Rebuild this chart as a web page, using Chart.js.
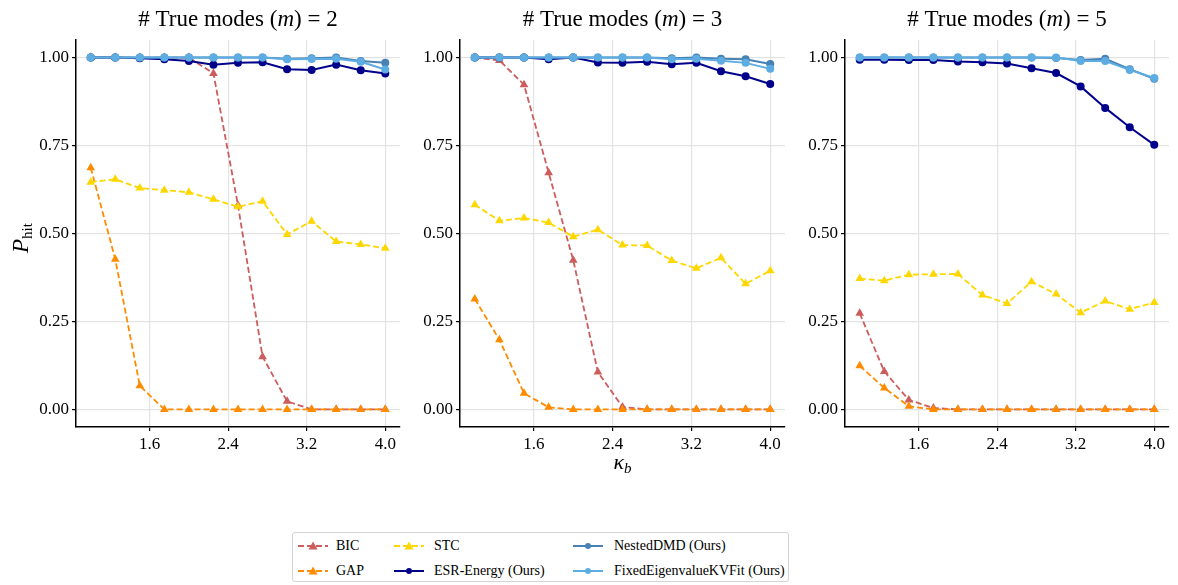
<!DOCTYPE html>
<html>
<head>
<meta charset="utf-8">
<script src="https://cdn.jsdelivr.net/npm/chart.js@4.4.1/dist/chart.umd.min.js"></script>
<style>
  html, body { margin: 0; padding: 0; background: #fff; }
  body { width: 1178px; height: 585px; position: relative; overflow: hidden; font-family: "Liberation Serif", "DejaVu Serif", serif; }
  canvas { position: absolute; top: 0; }
  #legend { position: absolute; left: 292px; top: 532px; width: 497px; height: 50px; border: 1px solid #d4d4d4; border-radius: 3px; background: #fff; box-sizing: border-box; }
  .li { position: absolute; height: 18px; }
  .li svg { position: absolute; left: 0; top: 3px; }
  .li span { position: absolute; white-space: nowrap; font-size: 14px; line-height: 18px; top: 0; color: #000; }
</style>
</head>
<body>
<canvas id="c1" width="410" height="480" style="left:0px"></canvas>
<canvas id="c2" width="395" height="480" style="left:400px"></canvas>
<canvas id="c3" width="393" height="480" style="left:785px"></canvas>
<div id="legend"></div>
<script>
// ---------------- data ----------------
const kappaB = [1.0, 1.25, 1.5, 1.75, 2.0, 2.25, 2.5, 2.75, 3.0, 3.25, 3.5, 3.75, 4.0];
const xTickValues = [1.6, 2.4, 3.2, 4.0];
const yTickValues = [0.0, 0.25, 0.5, 0.75, 1.0];
const trueModes = [2, 3, 5];
const seriesNames = ["BIC", "GAP", "STC", "ESR-Energy (Ours)", "NestedDMD (Ours)", "FixedEigenvalueKVFit (Ours)"];

// m = 2
const bicM2    = [1.0, 1.0, 1.0, 1.0, 1.0, 0.955, 0.58, 0.15, 0.023, 0.0, 0.0, 0.0, 0.0];
const gapM2    = [0.687, 0.427, 0.067, 0.0, 0.0, 0.0, 0.0, 0.0, 0.0, 0.0, 0.0, 0.0, 0.0];
const stcM2    = [0.646, 0.654, 0.629, 0.623, 0.617, 0.597, 0.576, 0.592, 0.497, 0.535, 0.477, 0.469, 0.458];
const esrM2    = [1.0, 1.0, 0.998, 0.995, 0.99, 0.98, 0.985, 0.987, 0.967, 0.965, 0.98, 0.964, 0.955];
const nestedM2 = [1.0, 1.0, 1.0, 1.0, 1.0, 1.0, 1.0, 1.0, 0.997, 0.998, 1.0, 0.99, 0.985];
const fixedM2  = [1.0, 1.0, 1.0, 1.0, 1.0, 1.0, 1.0, 1.0, 0.995, 0.996, 0.997, 0.988, 0.966];

// m = 3
const bicM3    = [1.0, 0.992, 0.923, 0.673, 0.424, 0.106, 0.007, 0.0, 0.0, 0.0, 0.0, 0.0, 0.0];
const gapM3    = [0.314, 0.198, 0.046, 0.006, 0.0, 0.0, 0.0, 0.0, 0.0, 0.0, 0.0, 0.0, 0.0];
const stcM3    = [0.582, 0.536, 0.544, 0.531, 0.491, 0.511, 0.467, 0.466, 0.423, 0.401, 0.431, 0.357, 0.394];
const esrM3    = [1.0, 1.0, 1.0, 0.995, 1.0, 0.986, 0.985, 0.988, 0.981, 0.985, 0.961, 0.947, 0.925];
const nestedM3 = [1.0, 1.0, 1.0, 1.0, 1.0, 1.0, 1.0, 1.0, 0.998, 1.0, 0.997, 0.995, 0.982];
const fixedM3  = [1.0, 1.0, 1.0, 1.0, 1.0, 1.0, 1.0, 1.0, 0.995, 0.997, 0.991, 0.985, 0.968];

// m = 5
const bicM5    = [0.273, 0.108, 0.027, 0.004, 0.0, 0.0, 0.0, 0.0, 0.0, 0.0, 0.0, 0.0, 0.0];
const gapM5    = [0.124, 0.061, 0.009, 0.0, 0.0, 0.0, 0.0, 0.0, 0.0, 0.0, 0.0, 0.0, 0.0];
const stcM5    = [0.372, 0.366, 0.383, 0.384, 0.385, 0.325, 0.301, 0.363, 0.328, 0.275, 0.308, 0.285, 0.304];
const esrM5    = [0.994, 0.994, 0.993, 0.993, 0.989, 0.987, 0.983, 0.97, 0.956, 0.918, 0.857, 0.802, 0.752];
const nestedM5 = [1.0, 1.0, 1.0, 1.0, 1.0, 1.0, 1.0, 1.0, 0.999, 0.993, 0.997, 0.967, 0.94];
const fixedM5  = [1.0, 1.0, 1.0, 1.0, 1.0, 1.0, 1.0, 1.0, 1.0, 0.99, 0.99, 0.965, 0.942];

// ---------------- styles ----------------
const SERIF = '"Liberation Serif", "DejaVu Serif", serif';
const styles = [
  { color: '#cd5c5c', dashed: true,  point: 'triangle' },
  { color: '#ff8c00', dashed: true,  point: 'triangle' },
  { color: '#ffd700', dashed: true,  point: 'triangle' },
  { color: '#00008b', dashed: false, point: 'circle' },
  { color: '#4682b4', dashed: false, point: 'circle' },
  { color: '#5dade2', dashed: false, point: 'circle' }
];

function makeDatasets(arrays) {
  return arrays.map((arr, i) => {
    const st = styles[i];
    return {
      label: seriesNames[i],
      data: kappaB.map((x, j) => ({ x: x, y: arr[j] })),
      borderColor: st.color,
      backgroundColor: st.color,
      borderWidth: st.dashed ? 1.8 : 2,
      borderDash: st.dashed ? [6, 3] : [],
      pointStyle: st.point,
      pointRadius: st.dashed ? 5 : 4,
      pointBorderWidth: 0,
      pointHoverRadius: 4,
      tension: 0,
      order: 6 - i
    };
  });
}

function drawRich(ctx, parts, x, y) {
  let total = 0;
  parts.forEach(p => { ctx.font = p.font; p.w = ctx.measureText(p.text).width; total += p.w; });
  let cx = x - total / 2;
  ctx.textAlign = 'left';
  ctx.textBaseline = 'alphabetic';
  parts.forEach(p => { ctx.font = p.font; ctx.fillText(p.text, cx, y + (p.dy || 0)); cx += p.w; });
}

const decorPlugin = {
  id: 'decor',
  afterDraw(chart, args, opts) {
    const ctx = chart.ctx;
    const ca = chart.chartArea;
    ctx.save();
    ctx.fillStyle = '#000';
    drawRich(ctx, [
      { text: '# True modes (', font: '23px ' + SERIF },
      { text: 'm', font: 'italic 23px ' + SERIF },
      { text: ') = ' + opts.m, font: '23px ' + SERIF }
    ], (ca.left + ca.right) / 2, 26);
    if (opts.ylabel) {
      ctx.save();
      ctx.translate(28, 238);
      ctx.rotate(-Math.PI / 2);
      drawRich(ctx, [
        { text: 'P', font: 'italic 23px ' + SERIF },
        { text: 'hit', font: '15px ' + SERIF, dy: 4 }
      ], 0, 0);
      ctx.restore();
    }
    if (opts.xlabel) {
      drawRich(ctx, [
        { text: 'κ', font: 'italic 22px ' + SERIF },
        { text: 'b', font: 'italic 15px ' + SERIF, dy: 4 }
      ], (ca.left + ca.right) / 2, 469);
    }
    ctx.restore();
  }
};

function makeChart(id, arrays, m, yAxisWidth, padRight, ylabel, xlabel) {
  const tickFont = { family: SERIF, size: 17 };
  return new Chart(document.getElementById(id), {
    type: 'line',
    data: { datasets: makeDatasets(arrays) },
    plugins: [decorPlugin],
    options: {
      responsive: false,
      animation: false,
      events: [],
      layout: { padding: { top: 40, right: padRight, left: 0, bottom: 0 } },
      plugins: {
        legend: { display: false },
        tooltip: { enabled: false },
        title: { display: false },
        decor: { m: m, ylabel: ylabel, xlabel: xlabel }
      },
      scales: {
        x: {
          type: 'linear',
          min: 0.85, max: 4.15,
          afterBuildTicks: s => { s.ticks = xTickValues.map(v => ({ value: v })); },
          afterFit: s => { s.height = 53; },
          ticks: { font: tickFont, color: '#000', padding: 3, maxRotation: 0, autoSkip: false, callback: v => Number(v).toFixed(1) },
          grid: { color: '#e3e3e3', lineWidth: 1.2, tickColor: '#000', tickLength: 4, drawTicks: true },
          border: { color: '#000', width: 1.5 }
        },
        y: {
          type: 'linear',
          min: -0.05, max: 1.05,
          afterBuildTicks: s => { s.ticks = yTickValues.map(v => ({ value: v })); },
          afterFit: s => { s.width = yAxisWidth; },
          ticks: { font: tickFont, color: '#000', padding: 3, autoSkip: false, callback: v => Number(v).toFixed(2) },
          grid: { color: '#e3e3e3', lineWidth: 1.2, tickColor: '#000', tickLength: 4, drawTicks: true },
          border: { color: '#000', width: 1.5 }
        }
      }
    }
  });
}

makeChart('c1', [bicM2, gapM2, stcM2, esrM2, nestedM2, fixedM2], trueModes[0], 76, 10, true, false);
makeChart('c2', [bicM3, gapM3, stcM3, esrM3, nestedM3, fixedM3], trueModes[1], 60, 10, false, true);
makeChart('c3', [bicM5, gapM5, stcM5, esrM5, nestedM5, fixedM5], trueModes[2], 60, 9, false, false);

// ---------------- legend ----------------
const legendCols = [5, 101, 280];
const legendTextCols = [43, 141, 321];
const legendRows = [13, 38];
const legendEl = document.getElementById('legend');
seriesNames.forEach((name, i) => {
  const col = Math.floor(i / 2), row = i % 2;
  const st = styles[i];
  const item = document.createElement('div');
  item.className = 'li';
  item.style.left = legendCols[col] + 'px';
  item.style.top = (legendRows[row] - 9) + 'px';
  const marker = st.point === 'triangle'
    ? '<polygon points="15,1.5 19.5,9.5 10.5,9.5" fill="' + st.color + '"/>'
    : '<circle cx="15" cy="6" r="3" fill="' + st.color + '"/>';
  const dash = st.dashed ? ' stroke-dasharray="6,3"' : '';
  item.innerHTML = '<svg width="30" height="12" viewBox="0 0 30 12"><line x1="0" y1="6" x2="30" y2="6" stroke="' + st.color + '" stroke-width="' + (st.dashed ? 1.8 : 2) + '"' + dash + '/>' + marker + '</svg>' +
    '<span style="left:' + (legendTextCols[col] - legendCols[col]) + 'px">' + name + '</span>';
  legendEl.appendChild(item);
});
</script>
</body>
</html>
